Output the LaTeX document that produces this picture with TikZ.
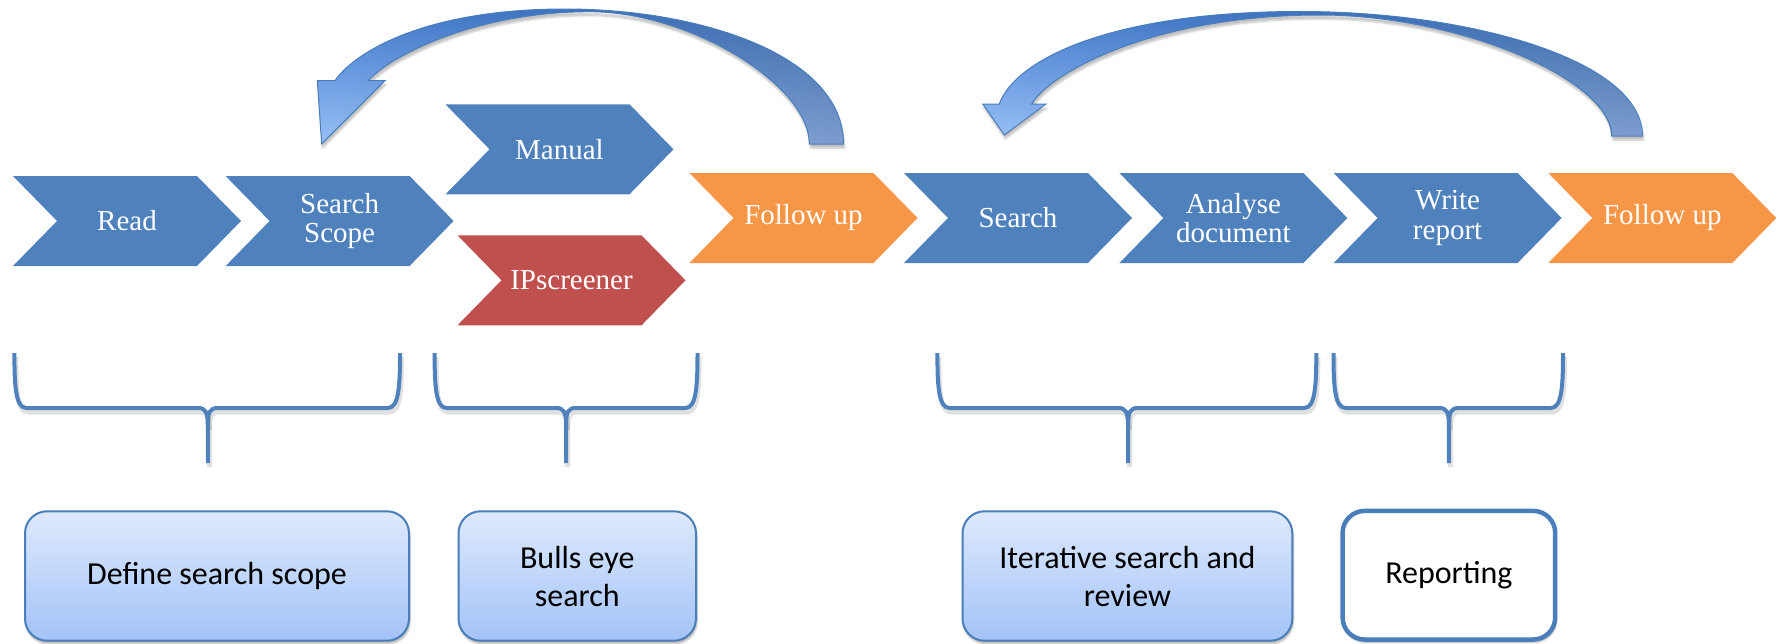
\documentclass[tikz,border=0pt]{standalone}
\usepackage{fontspec}
\setmainfont{Liberation Serif}
\newfontfamily\boxfont{Carlito}
\usetikzlibrary{shadows.blur,fadings}
\definecolor{cblue}{HTML}{4F81BD}
\definecolor{cred}{HTML}{C0504D}
\definecolor{corange}{HTML}{F79646}
\definecolor{boxtop}{RGB}{222,233,252}
\definecolor{boxbot}{RGB}{163,195,248}
\definecolor{arrtop}{RGB}{66,125,210}
\definecolor{arrbot}{RGB}{152,192,246}
\definecolor{arrtopR}{RGB}{60,104,168}
\definecolor{arrbotR}{RGB}{124,157,205}
\definecolor{edge}{RGB}{74,126,187}
\tikzfading[name=fadetoright, left color=transparent!100, right color=transparent!0]
\newcommand\chev[5]{%
  \fill[#4] (#2,#3) -- ++(184,0) -- ++(44,45) -- ++(-44,45) -- ++(-184,0) -- ++(44,-45) -- cycle;
  \node[chevtext] (#1) at (#2+114,#3+45) {#5};}
\newcommand\mybrace[4]{%
  \begin{scope}[shift={(1.5,4)}]
  \draw[braceshadow] (#2,353) .. controls (#2,385) and (#2+1,408) .. (#2+12,408) -- (#4-10,408) .. controls (#4-2,408) and (#4,412) .. (#4,426) -- (#4,463);
  \draw[braceshadow] (#3,353) .. controls (#3,385) and (#3-1,408) .. (#3-12,408) -- (#4+10,408) .. controls (#4+2,408) and (#4,412) .. (#4,426);
  \end{scope}
  \draw[bracestyle] (#2,353) .. controls (#2,385) and (#2+1,408) .. (#2+12,408) -- (#4-10,408) .. controls (#4-2,408) and (#4,412) .. (#4,426) -- (#4,463);
  \draw[bracestyle] (#3,353) .. controls (#3,385) and (#3-1,408) .. (#3-12,408) -- (#4+10,408) .. controls (#4+2,408) and (#4,412) .. (#4,426);
  \coordinate (#1) at (#4,463);}
\newcommand\arrowA{(368.3,80.7) -- (385,80.7) -- (321.7,144) -- (317.3,80.7) -- (335,80.7)
  .. controls (352,55) and (420,9) .. (565,9)
  .. controls (700,9) and (843.5,55) .. (843.5,144)
  -- (809.3,144)
  .. controls (809.3,85) and (690,11.7) .. (590,11.7)
  .. controls (470,11.7) and (385,60) .. (368.3,80.7) -- cycle}
\newcommand\arrowB{(1031.7,104) -- (1046,104) -- (1004.3,135) -- (982.7,104) -- (999.3,104)
  .. controls (1015,60) and (1110,11.5) .. (1300,11.5)
  .. controls (1470,11.5) and (1642.5,60) .. (1642.5,136)
  -- (1611.7,136)
  .. controls (1611.7,80) and (1460,15) .. (1320,15)
  .. controls (1150,15) and (1048,75) .. (1031.7,104) -- cycle}
\begin{document}
\begin{tikzpicture}[x=1pt,y=-1pt,
  chevtext/.style={text=white,font=\fontsize{29}{29.5}\selectfont,align=center,inner sep=0pt},
  boxstyle/.style={draw=edge,line width=2pt,rounded corners=22pt,top color=boxtop,bottom color=boxbot,
     blur shadow={shadow xshift=1pt,shadow yshift=-3pt,shadow blur steps=6,shadow opacity=30},
     font=\boxfont\fontsize{32}{38}\selectfont,align=center,inner sep=0pt},
  bracestyle/.style={draw=cblue,line width=4pt,line join=round},
  braceshadow/.style={draw=black,line width=5pt,opacity=0.12,line join=round},
  arrowbase/.style={top color=arrtop,bottom color=arrbot,
     blur shadow={shadow xshift=1pt,shadow yshift=-4pt,shadow blur steps=6,shadow opacity=25}},
  arrowover/.style={top color=arrtopR,bottom color=arrbotR,path fading=fadetoright},
  arrowedge/.style={draw=edge,line width=1pt,line join=miter}]
\useasboundingbox (0,0) rectangle (1781,643);

% chevrons
\chev{read}{13}{176}{cblue}{Read}
\chev{scope}{225.6}{176}{cblue}{Search\\Scope}
\chev{manual}{445.5}{104.3}{cblue}{Manual}
\chev{ips}{457.5}{235.3}{cred}{IPscreener}
\chev{fup1}{689.5}{173}{corange}{Follow up}
\chev{search}{904}{173}{cblue}{Search}
\chev{analyse}{1119.4}{173}{cblue}{Analyse\\document}
\chev{write}{1333.6}{173}{cblue}{Write\\report}
\chev{fup2}{1548.3}{173}{corange}{Follow up}

% curved arrows (follow up -> earlier steps)
\path[arrowbase] \arrowA;
\path[arrowover] \arrowA;
\path[arrowedge] \arrowA;
\path[arrowbase] \arrowB;
\path[arrowover] \arrowB;
\path[arrowedge] \arrowB;

% braces
\mybrace{br1}{14.4}{400}{207.8}
\mybrace{br2}{434.6}{697.5}{566}
\mybrace{br3}{937.4}{1316.3}{1128}
\mybrace{br4}{1333.5}{1563}{1448.9}

% boxes
\node[boxstyle,minimum width=384pt,minimum height=129.4pt] (b1) at (217,576) {Define search scope};
\node[boxstyle,minimum width=237.5pt,minimum height=129.4pt] (b2) at (577.25,576) {Bulls eye\\search};
\node[boxstyle,minimum width=329.8pt,minimum height=129.4pt] (b3) at (1127.4,576) {Iterative search and\\review};
\node[boxstyle,line width=4.5pt,top color=white,bottom color=white,minimum width=212.6pt,minimum height=128.6pt] (b4) at (1448.9,575.2) {Reporting};
\end{tikzpicture}
\end{document}
